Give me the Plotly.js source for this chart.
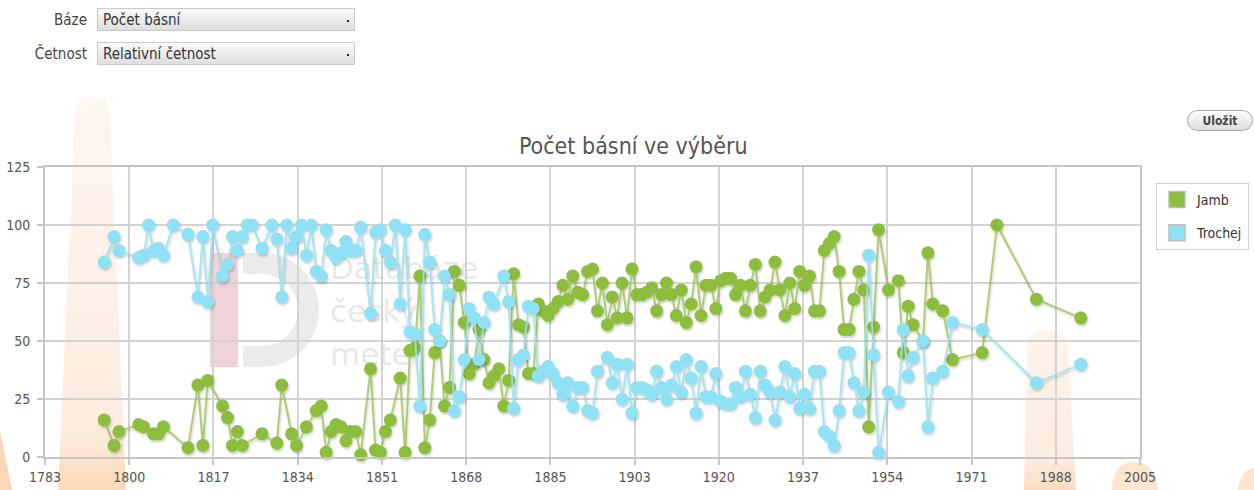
<!DOCTYPE html>
<html>
<head>
<meta charset="utf-8">
<script src="https://cdn.plot.ly/plotly-3.0.1.min.js"></script>
<style>
  html,body{margin:0;padding:0;background:#fff;width:1254px;height:490px;overflow:hidden;}
  #decor{position:absolute;left:0;top:0;z-index:0;}
  #chart{position:absolute;left:0;top:0;width:1254px;height:490px;z-index:1;}
  .ui{position:absolute;z-index:2;font-family:"DejaVu Sans Condensed","DejaVu Sans",sans-serif;}
  .lbl{position:absolute;left:0;width:87px;text-align:right;font-size:15px;color:#444;line-height:24px;}
  .sel{position:absolute;left:97px;height:23px;border:1px solid #c9c9c9;
       background:linear-gradient(#fafafa,#dedede);font-size:15px;color:#333;line-height:23px;padding-left:5px;box-sizing:border-box;width:258px;}
  .sel .dot{position:absolute;right:5px;top:11px;width:2px;height:2px;background:#222;}
  #save{position:absolute;left:1187px;top:110px;width:66px;height:21px;border:1px solid #a5a5a5;border-radius:11px;
        background:linear-gradient(#ffffff,#dcdcdc);font-size:12px;font-weight:bold;color:#444;text-align:center;line-height:20px;box-sizing:border-box;}
  .js-plotly-plot .scatterlayer .trace{filter:drop-shadow(1px 2px 1px rgba(0,0,0,0.2));}
</style>
</head>
<body>
<svg id="decor" width="1254" height="490" xmlns="http://www.w3.org/2000/svg">
  <defs>
    <linearGradient id="flame" x1="0" y1="0" x2="0" y2="1">
      <stop offset="0" stop-color="#fff6f0"/>
      <stop offset="0.85" stop-color="#fdecdf"/>
      <stop offset="1" stop-color="#fcd9b9"/>
    </linearGradient>
    <linearGradient id="flame2" x1="0" y1="0" x2="0" y2="1">
      <stop offset="0" stop-color="#fff3ea"/>
      <stop offset="0.8" stop-color="#fdece0"/>
      <stop offset="1" stop-color="#fcdcc0"/>
    </linearGradient>
  </defs>
  <path d="M75,118 Q75,96 93,96 Q110,96 110,118 L126,490 L58,490 Z" fill="url(#flame)"/>
  <path d="M1027,350 Q1027,330 1047,330 Q1067,330 1068,350 L1076,490 L1024,490 Z" fill="url(#flame2)"/>
  <path d="M1112,490 Q1112,462 1134,462 Q1156,462 1158,490 Z" fill="#fde5d0"/>
  <path d="M1238,490 Q1240,470 1254,468 L1254,490 Z" fill="#fde5d0"/>
  <path d="M0,430 L12,490 L0,490 Z" fill="#fbd7b6"/>
  <rect x="210" y="253" width="28" height="114" fill="#efd3d6"/>
  <path fill="#ebebeb" fill-rule="evenodd" d="M243,253 H262 A57,57 0 0 1 262,367 H243 Z M243,274 H262 A36,36 0 0 1 262,346 H243 Z"/>
  <g font-family="DejaVu Sans, sans-serif" font-size="31" fill="#e8e8e8">
    <text x="330" y="279">Databáze</text>
    <text x="330" y="322">český</text>
    <text x="330" y="365">meter</text>
  </g>
</svg>

<div class="ui" style="left:0;top:8px;width:360px;height:25px;">
  <div class="lbl">Báze</div>
  <div class="sel">Počet básní<span class="dot"></span></div>
</div>
<div class="ui" style="left:0;top:42px;width:360px;height:25px;">
  <div class="lbl">Četnost</div>
  <div class="sel">Relativní četnost<span class="dot"></span></div>
</div>
<div class="ui" id="save">Uložit</div>

<div id="chart"></div>
<script>
// ---- data ----
const years = [1795,1797,1798,1802,1803,1804,1805,1806,1807,1809,1812,1814,1815,1816,1817,1819,1820,1821,1822,1823,1824,1825,1827,1829,1830,1831,1832,1833,1834,1835,1836,1837,1838,1839,1840,1841,1842,1843,1844,1845,1846,1847,1849,1850,1851,1852,1853,1854,1855,1856,1857,1858,1859,1860,1861,1862,1863,1864,1865,1866,1867,1868,1869,1870,1871,1872,1873,1874,1875,1876,1877,1878,1879,1880,1881,1882,1883,1884,1885,1886,1887,1888,1889,1890,1891,1892,1893,1894,1895,1896,1897,1898,1899,1900,1901,1902,1903,1904,1905,1906,1907,1908,1909,1910,1911,1912,1913,1914,1915,1916,1917,1918,1919,1920,1921,1922,1923,1924,1925,1926,1927,1928,1929,1930,1931,1932,1933,1934,1935,1936,1937,1938,1939,1940,1941,1942,1943,1944,1945,1946,1947,1948,1949,1950,1951,1952,1954,1956,1957,1958,1959,1961,1962,1963,1965,1967,1973,1976,1984,1993];
const jamb = [16,5,11,14,13,null,10,10,13,null,4,31,5,33,null,22,17,5,11,5,null,null,10,null,6,31,null,10,5,null,13,null,20,22,2,11,14,13,7,11,11,1,38,3,2,11,16,null,34,2,46,47,78,4,16,45,50,22,30,80,74,58,36,40,55,42,32,35,38,22,33,79,57,56,36,36,66,63,61,64,67,74,68,78,71,70,80,81,63,75,57,69,60,75,60,81,70,70,71,73,63,70,75,70,61,72,58,66,82,61,74,74,64,76,77,77,70,74,63,74,83,63,69,72,84,72,61,75,64,80,74,78,63,63,89,92,95,80,55,55,68,80,72,13,56,98,72,76,45,65,57,50,88,66,63,42,45,100,68,60];
const trochej = [84,95,89,86,87,100,89,90,87,100,96,69,95,67,100,78,83,95,89,95,100,100,90,100,94,69,100,90,95,100,87,100,80,78,98,89,86,88,93,89,89,99,62,97,98,89,84,100,66,98,54,53,22,96,84,55,50,78,70,20,26,42,64,60,42,58,69,66,null,78,67,21,42,44,65,64,35,37,39,36,32,27,32,22,30,30,20,19,37,null,43,32,40,25,40,19,30,30,29,27,37,30,25,31,39,28,42,34,19,39,26,26,36,24,23,23,30,26,37,27,17,37,31,28,16,28,39,26,36,21,27,21,37,37,11,9,5,20,45,45,32,20,28,87,44,2,28,24,55,35,43,50,13,34,37,58,55,null,32,40];
const seriesNames = ['Jamb','Trochej'];
const xTickLabels = ['1783','1800','1817','1834','1851','1868','1885','1903','1920','1937','1954','1971','1988','2005'];
const yTickLabels = ['0','25','50','75','100','125'];
const chartTitle = 'Počet básní ve výběru';

// ---- styling ----
const markerColors = ['#8dbd3d','#8fe2f5'];
const lineColors = ['rgba(155,197,88,0.8)','rgba(155,228,244,0.85)'];
const font = '"DejaVu Sans Condensed","DejaVu Sans",sans-serif';
const xMin = 1783, xMax = 2005;
const xTickVals = xTickLabels.map((_, i) => xMin + i * (xMax - xMin) / (xTickLabels.length - 1));

const traces = [];
[jamb, trochej].forEach((vals, i) => {
  traces.push({
    type: 'scatter', mode: 'lines+markers', x: years, y: vals, connectgaps: true,
    name: seriesNames[i], showlegend: false, cliponaxis: false, hoverinfo: 'x+y',
    line: {color: lineColors[i], width: 2},
    marker: {color: markerColors[i], size: 13, line: {width: 0}}
  });
});
// legend swatches
[0,1].forEach(i => {
  traces.push({
    type: 'scatter', mode: 'markers', x: [null], y: [null], name: seriesNames[i],
    legendgroup: 'g' + i, showlegend: true,
    marker: {symbol: 'square', color: markerColors[i], size: 16, line: {color: '#bdbdbd', width: 1.5}}
  });
});

const axisCommon = {
  showgrid: true, gridcolor: '#d3d3d3', gridwidth: 2,
  showline: true, linecolor: '#c6c6c6', linewidth: 2, mirror: true,
  ticks: 'outside', ticklen: 6, tickwidth: 2, tickcolor: '#c6c6c6', automargin: false,
  zeroline: false, tickfont: {family: font, size: 14, color: '#555'}, fixedrange: true
};

const layout = {
  width: 1254, height: 490,
  margin: {l: 45, r: 114, t: 167, b: 33, pad: 0, autoexpand: false},
  paper_bgcolor: 'rgba(0,0,0,0)', plot_bgcolor: 'rgba(0,0,0,0)',
  title: {text: chartTitle, font: {family: font, size: 23, color: '#555'}, automargin: false,
          xref: 'container', x: 0.505, xanchor: 'center', yref: 'container', y: 0.703, yanchor: 'middle'},
  xaxis: Object.assign({}, axisCommon, {range: [xMin, xMax], tickmode: 'array', tickvals: xTickVals, ticktext: xTickLabels}),
  yaxis: Object.assign({}, axisCommon, {range: [0, 125], tickmode: 'array', tickvals: yTickLabels.map(Number), ticktext: yTickLabels, ticklabelstandoff: 4}),
  legend: {xref: 'container', yref: 'container', x: 1156/1254, y: 1 - 183/490, xanchor: 'left', yanchor: 'top', bgcolor: '#fff',
           bordercolor: '#cfcfcf', borderwidth: 1, traceorder: 'grouped', tracegroupgap: 12,
           font: {family: font, size: 14, color: '#333'}, itemwidth: 30},
  showlegend: true
};

Plotly.newPlot('chart', traces, layout, {displayModeBar: false, staticPlot: true});
</script>
</body>
</html>
